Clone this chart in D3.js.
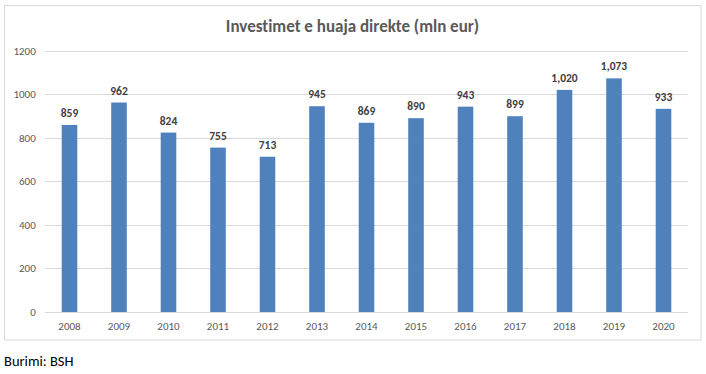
<!DOCTYPE html>
<html>
<head>
  <meta charset="utf-8">
  <script src="https://d3js.org/d3.v7.min.js"></script>
  <style>
    body { margin: 0; background: #fff; font-family: Carlito, "Liberation Sans", Arial, sans-serif; }
    svg text { font-variant-ligatures: none; }
  </style>
</head>
<body>
  <div id="chart"></div>
  <script>
    var years = ["2008", "2009", "2010", "2011", "2012", "2013", "2014", "2015", "2016", "2017", "2018", "2019", "2020"];
    var values = [859, 962, 824, 755, 713, 945, 869, 890, 943, 899, 1020, 1073, 933];
    var yTicks = [0, 200, 400, 600, 800, 1000, 1200];
    var title = "Investimet e huaja direkte (mln eur)";
    var source = "Burimi: BSH";

    var W = 706, H = 374;
    var margin = {top: 50.7, left: 44.75, right: 706 - 688.25, bottom: 374 - 312};

    var svg = d3.select("#chart").append("svg")
      .attr("width", W)
      .attr("height", H);

    // chart frame
    svg.append("rect")
      .attr("x", 4.5).attr("y", 5.5)
      .attr("width", 696.5).attr("height", 334.5)
      .attr("fill", "#fff")
      .attr("stroke", "#d9d9d9");

    var x = d3.scaleBand()
      .domain(years)
      .range([margin.left, W - margin.right])
      .paddingInner(0.685)
      .paddingOuter(0.3425);

    var y = d3.scaleLinear()
      .domain([0, 1200])
      .range([H - margin.bottom, margin.top]);

    // gridlines
    svg.append("g")
      .selectAll("line")
      .data(yTicks)
      .join("line")
      .attr("x1", margin.left)
      .attr("x2", W - margin.right)
      .attr("y1", function(d) { return Math.round(y(d)) + 0.5; })
      .attr("y2", function(d) { return Math.round(y(d)) + 0.5; })
      .attr("stroke", "#d9d9d9");

    // y axis labels
    var yAxis = svg.append("g")
      .attr("transform", "translate(" + (margin.left - 9) + ",0)")
      .call(d3.axisLeft(y).tickValues(yTicks).tickSize(0).tickPadding(0).tickFormat(d3.format("d")));
    yAxis.select(".domain").remove();
    yAxis.selectAll("text")
      .attr("fill", "#595959")
      .style("font-family", "Carlito, 'Liberation Sans', Arial, sans-serif")
      .style("font-size", "11px");

    // x axis labels
    var xAxis = svg.append("g")
      .attr("transform", "translate(0," + (H - margin.bottom) + ")")
      .call(d3.axisBottom(x).tickSize(0).tickPadding(10));
    xAxis.select(".domain").remove();
    xAxis.selectAll("text")
      .attr("fill", "#595959")
      .style("font-family", "Carlito, 'Liberation Sans', Arial, sans-serif")
      .style("font-size", "11px");

    // bars
    svg.append("g")
      .selectAll("rect")
      .data(values)
      .join("rect")
      .attr("x", function(d, i) { return x(years[i]); })
      .attr("y", function(d) { return y(d); })
      .attr("width", x.bandwidth())
      .attr("height", function(d) { return y(0) - y(d); })
      .attr("fill", "#4f81bd");

    // value labels
    svg.append("g")
      .selectAll("text")
      .data(values)
      .join("text")
      .attr("x", function(d, i) { return x(years[i]) + x.bandwidth() / 2; })
      .attr("y", function(d) { return y(d) - 8; })
      .attr("text-anchor", "middle")
      .attr("fill", "#404040")
      .style("font-size", "11.5px")
      .style("font-weight", "bold")
      .text(d3.format(","));

    svg.append("text")
      .attr("x", 352.5)
      .attr("y", 31.5)
      .attr("text-anchor", "middle")
      .attr("fill", "#595959")
      .style("font-size", "17px")
      .style("font-weight", "bold")
      .text(title);

    svg.append("text")
      .attr("x", 4)
      .attr("y", 366)
      .attr("fill", "#000")
      .style("font-size", "14.5px")
      .text(source);
  </script>
</body>
</html>
